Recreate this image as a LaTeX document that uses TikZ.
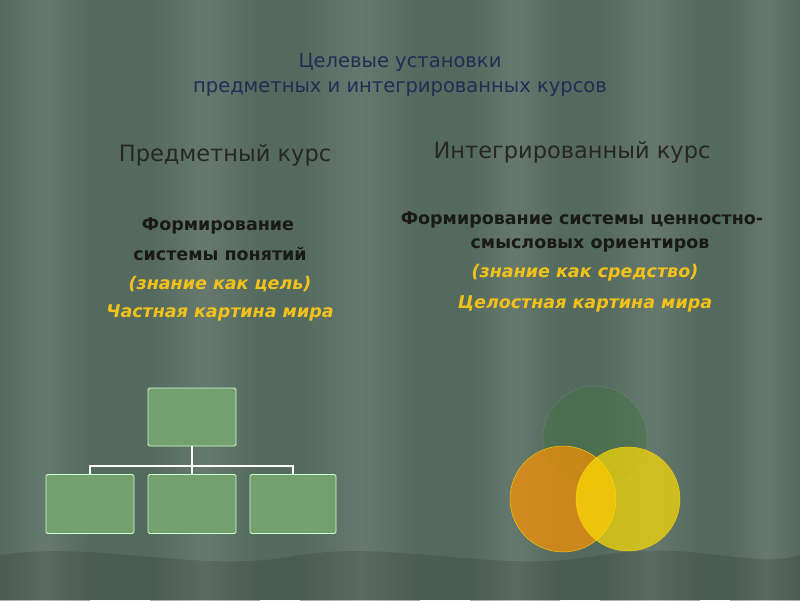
\documentclass[tikz,border=0pt]{standalone}
\usepackage{fontspec}
\setmainfont{DejaVu Sans}
\begin{document}
\begin{tikzpicture}[x=1pt,y=-1pt,
  orgbox/.style={draw=white!80!green,line width=0.8pt,fill=orgfill,rounded corners=1.5pt},
  wire/.style={draw=white,line width=1.5pt},
  ttl/.style={text=titlecol,font=\fontsize{19.5}{22}\selectfont},
  head/.style={text=black!85,font=\fontsize{22.5}{26}\selectfont},
  blk/.style={text=black!90,font=\bfseries\fontsize{17.5}{20}\selectfont},
  yel/.style={text=yelcol,font=\bfseries\itshape\fontsize{17.5}{20}\selectfont}]
\definecolor{bgc}{HTML}{556A5E}
\definecolor{orgfill}{HTML}{74A070}
\definecolor{titlecol}{HTML}{1E2E55}
\definecolor{yelcol}{HTML}{F2C21A}
\fill[bgc] (0,0) rectangle (800,600);
\foreach \a/\b in {0/90,150/260,300/420,470/560,600/700,730/800}{
  \shade[left color=bgc, right color=bgc, middle color=bgc!80!white, opacity=0.5] (\a,0) rectangle (\b,600);}
\fill[black,opacity=0.12] (0,555) .. controls (100,540) and (200,575) .. (300,555) .. controls (400,540) and (500,575) .. (600,555) .. controls (700,540) and (750,570) .. (800,555) -- (800,600) -- (0,600) -- cycle;
\useasboundingbox (0,0) rectangle (800,600);
\node[ttl] (t1) at (400,62) {Целевые установки};
\node[ttl] (t2) at (400,89) {предметных и интегрированных курсов};
\node[head] (h1) at (225,155) {Предметный курс};
\node[head] (h2) at (572,152) {Интегрированный курс};
\node[blk] (l1) at (218,226) {Формирование};
\node[blk] (l2) at (220,254) {системы понятий};
\node[yel] (l3) at (220,284) {(знание как цель)};
\node[yel] (l4) at (220,313) {Частная картина мира};
\node[blk] (r1) at (582,220) {Формирование системы ценностно-};
\node[blk] (r2) at (590,245) {смысловых ориентиров};
\node[yel] (r3) at (585,273) {(знание как средство)};
\node[yel] (r4) at (585,304) {Целостная картина мира};
\node[orgbox,minimum width=88pt,minimum height=58pt] (top) at (192,417) {};
\node[orgbox,minimum width=88pt,minimum height=59pt] (b1) at (90,504) {};
\node[orgbox,minimum width=88pt,minimum height=59pt] (b2) at (192,504) {};
\node[orgbox,minimum width=86pt,minimum height=59pt] (b3) at (293,504) {};
\coordinate (hl) at (90,466); \coordinate (hr) at (293,466); \coordinate (hm) at (192,466);
\draw[wire] (top.south) -- (hm);
\draw[wire] (b1.north) -- (hl) -- (hr) -- (b3.north);
\draw[wire] (hm) -- (b2.north);
\node[circle,minimum size=104pt,fill=black!60!green!50!gray,fill opacity=0.45,draw=black!40,draw opacity=0.4] (c1) at (595,438) {};
\node[circle,minimum size=106pt,fill=orange!85!yellow,fill opacity=0.7,draw=yellow!70!orange] (c2) at (563,499) {};
\node[circle,minimum size=104pt,fill=yellow!80!orange,fill opacity=0.7,draw=yellow!70!orange] (c3) at (628,499) {};
\end{tikzpicture}
\end{document}
